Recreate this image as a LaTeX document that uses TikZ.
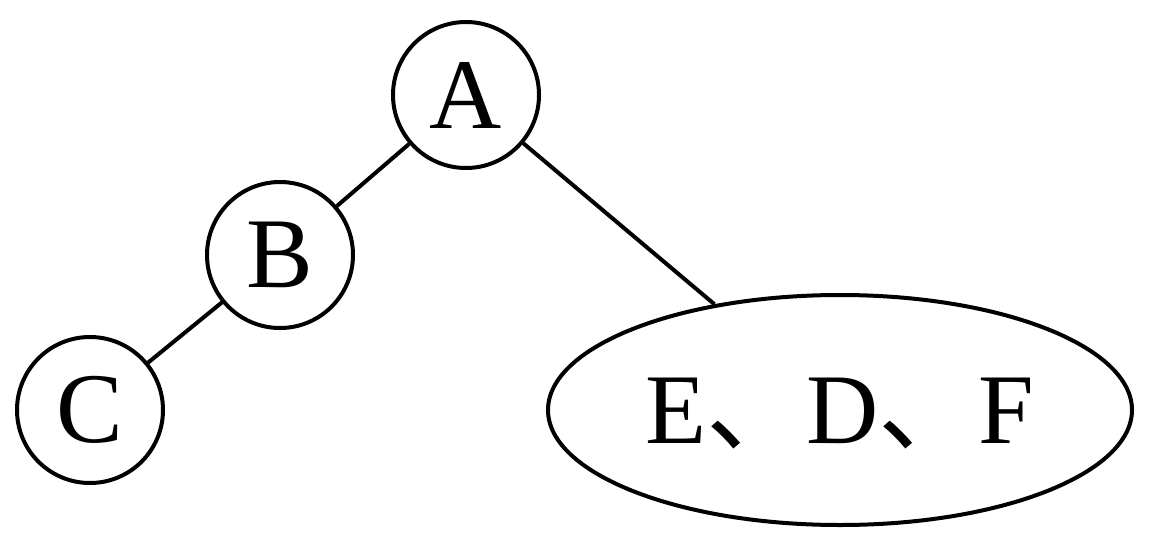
\documentclass[tikz,border=0pt]{standalone}
\usepackage{fontspec}
\setmainfont{Liberation Serif}
\newfontfamily\cjk{Noto Sans CJK SC}
\usetikzlibrary{shapes.geometric}
\tikzset{
  treenode/.style={circle, draw, line width=4pt, minimum size=146pt, inner sep=0pt,
    font=\fontsize{100}{120}\selectfont},
  groupnode/.style={ellipse, draw, line width=4pt, minimum width=584pt, minimum height=230pt,
    inner sep=0pt, text height=67pt, text depth=0pt, font=\fontsize{100}{120}\selectfont},
  edge/.style={line width=4pt}
}
\begin{document}
\begin{tikzpicture}[x=1pt,y=-1pt]
\useasboundingbox (0,0) rectangle (1152,552);
\node[treenode] (A) at (466,95) {A};
\node[treenode] (B) at (280,255) {B};
\node[treenode] (C) at (90,410) {C};
\node[groupnode] (EDF) at (840,410) {E{\cjk 、}D{\cjk 、}F};
\draw[edge] (A) -- (B);
\draw[edge] (B) -- (C);
\draw[edge] (A) -- (EDF);
\end{tikzpicture}
\end{document}
